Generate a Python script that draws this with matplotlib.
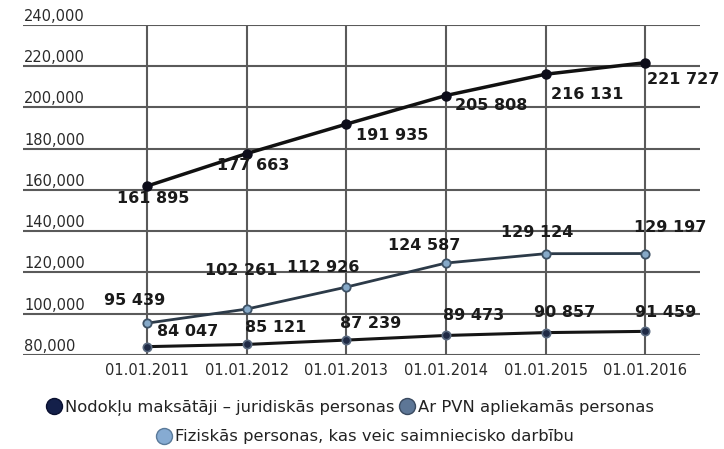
import matplotlib
matplotlib.use("Agg")
import matplotlib.pyplot as plt
from matplotlib.lines import Line2D
import matplotlib.transforms as mtransforms

# ── Data ─────────────────────────────────────────────────────────────────────

dates = ["01.01.2011", "01.01.2012", "01.01.2013",
         "01.01.2014", "01.01.2015", "01.01.2016"]
juridiskas = [161895, 177663, 191935, 205808, 216131, 221727]
pvn = [84047, 85121, 87239, 89473, 90857, 91459]
fiziskas = [95439, 102261, 112926, 124587, 129124, 129197]
y_ticks = [80000, 100000, 120000, 140000, 160000, 180000, 200000, 220000, 240000]
legend_names = ["Nodokļu maksātāji – juridiskās personas",
                "Ar PVN apliekamās personas",
                "Fiziskās personas, kas veic saimniecisko darbību"]

# label offsets in pixels (layout only)
off_jur = [(6, -12), (7, -12), (46, -11), (45, -10), (42, -20), (38, -17)]
off_fiz = [(-12, 23), (-5, 39), (-23, 20), (-22, 18), (-8, 21), (25, 26)]
off_pvn = [(41, 15), (29, 17), (24, 17), (28, 20), (19, 20), (20, 19)]

def fmt(v):
    return f"{v:,}".replace(",", " ")

# ── Plot ─────────────────────────────────────────────────────────────────────

fig = plt.figure(figsize=(7.24, 4.49), dpi=100)
ax = fig.add_axes([23 / 724, 94 / 449, 677 / 724, 330 / 449])
x = list(range(len(dates)))

ax.set_xlim(-1.245, 5.55)
ax.set_ylim(80000, 240000)
for s in ax.spines.values():
    s.set_visible(False)

for yv in y_ticks:
    ax.axhline(yv, color="#5a5a5a", lw=1.5, zorder=1)
for xv in x:
    ax.axvline(xv, color="#5a5a5a", lw=1.5, zorder=1)

ax.plot(x, juridiskas, color="#111111", lw=2.5, marker="o", ms=6.5,
        mfc="#0d0d1a", mec="#0d0d1a", zorder=3)
ax.plot(x, fiziskas, color="#2c3a48", lw=2, marker="o", ms=6,
        mfc="#86a9c8", mec="#3e5266", mew=1.3, zorder=3)
ax.plot(x, pvn, color="#151515", lw=2.2, marker="o", ms=6,
        mfc="#1f2a45", mec="#5a6a80", mew=1.2, zorder=3)

for series, offs in [(juridiskas, off_jur), (fiziskas, off_fiz), (pvn, off_pvn)]:
    for xi, v, (dx, dy) in zip(x, series, offs):
        ax.annotate(fmt(v), (xi, v), xytext=(dx, dy), textcoords="offset pixels",
                    ha="center", va="center", fontsize=11.5, fontweight="bold",
                    color="#1a1a1a", zorder=4)

ax.set_xticks(x)
ax.set_xticklabels(dates, fontsize=10.5, color="#2a2a2a")
ax.tick_params(axis="x", length=0, pad=6)

ax.set_yticks(y_ticks)
ax.set_yticklabels([f"{v:,}" for v in y_ticks], fontsize=10.5, color="#2a2a2a")
ax.tick_params(axis="y", length=0, pad=0)
shift = mtransforms.ScaledTranslation(1 / 100, 1 / 100, fig.dpi_scale_trans)
for lbl in ax.get_yticklabels():
    lbl.set_ha("left")
    lbl.set_va("bottom")
    lbl.set_transform(lbl.get_transform() + shift)

# ── Legend ───────────────────────────────────────────────────────────────────

leg_colors = [("#14204a", "#0a1030"), ("#5d7696", "#3a4a60"), ("#86abd2", "#5a7a9a")]
handles = [Line2D([], [], ls="none", marker="o", ms=11.5, mfc=fc, mec=ec, mew=1)
           for fc, ec in leg_colors]

leg1 = fig.legend(handles[:2], legend_names[:2], ncol=2, loc="center",
                  bbox_to_anchor=(350 / 724, 1 - 408 / 449), frameon=False,
                  fontsize=11.8, handletextpad=0.15, columnspacing=0.3,
                  handlelength=1.0, borderpad=0, borderaxespad=0)
leg2 = fig.legend(handles[2:], legend_names[2:], loc="center",
                  bbox_to_anchor=(365 / 724, 1 - 437 / 449), frameon=False,
                  fontsize=11.8, handletextpad=0.15, handlelength=1.0,
                  borderpad=0, borderaxespad=0)
for t in leg1.get_texts() + leg2.get_texts():
    t.set_color("#222222")

plt.savefig("out.png", dpi=100)
